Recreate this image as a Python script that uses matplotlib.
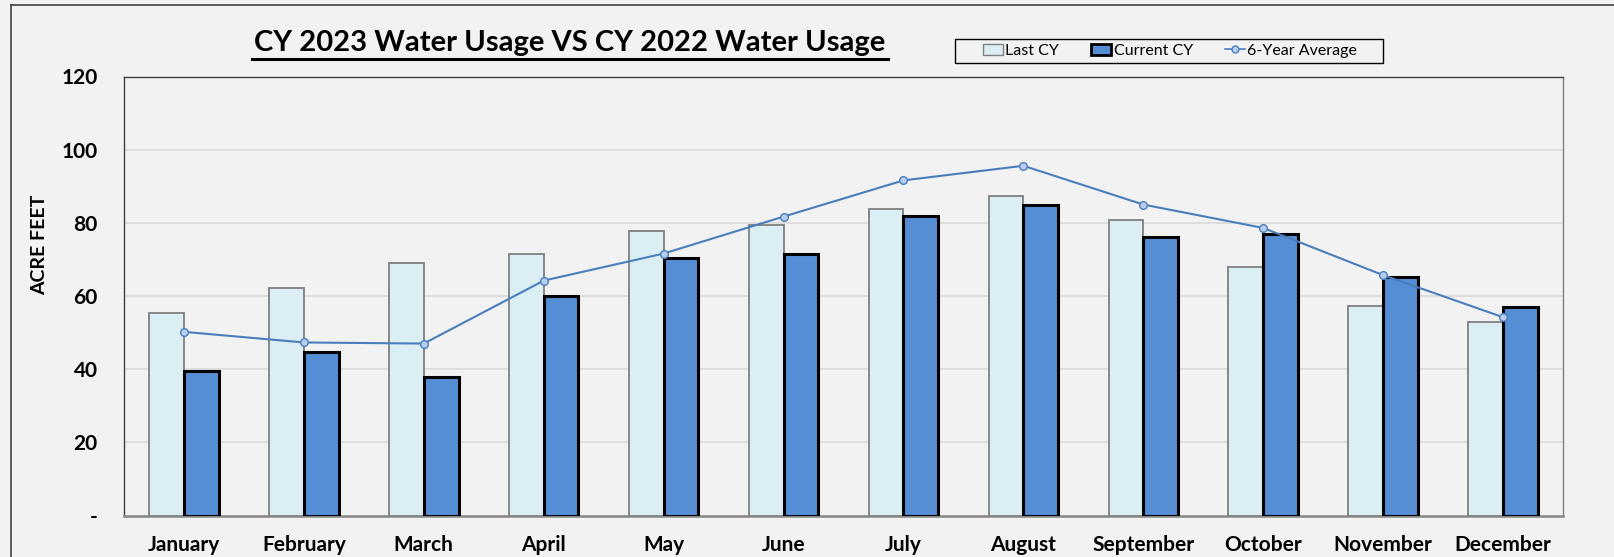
import matplotlib
matplotlib.use("Agg")
import matplotlib.pyplot as plt
import numpy as np
from matplotlib.patches import Patch, Rectangle
from matplotlib.lines import Line2D

months = ["January", "February", "March", "April", "May", "June", "July",
          "August", "September", "October", "November", "December"]
last_cy = [55.4, 62.2, 69.1, 71.5, 77.8, 79.3, 83.8, 87.3, 80.7, 68.0, 57.4, 53.0]
current_cy = [39.6, 44.8, 37.8, 60.0, 70.4, 71.4, 82.0, 85.0, 76.0, 77.0, 65.2, 57.0]
six_year_avg = [50.2, 47.3, 47.0, 64.2, 71.6, 81.7, 91.6, 95.6, 85.0, 78.6, 65.7, 54.2]
yticks = [0, 20, 40, 60, 80, 100, 120]
yticklabels = ["-", "20", "40", "60", "80", "100", "120"]

plt.rcParams['font.family'] = ['Lato', 'DejaVu Sans']
W, H = 1614, 557
bg = "#f2f2f2"
fig = plt.figure(figsize=(W / 100, H / 100), dpi=100, facecolor=bg)
ax = fig.add_axes([124 / W, 1 - 515.5 / H, (1563 - 124) / W, (515.5 - 76.5) / H])
ax.set_facecolor(bg)

x = np.arange(len(months))
bw = 0.29
ax.bar(x - bw / 2, last_cy, bw, color="#dbeef4", edgecolor="#7f7f7f", linewidth=1.3, zorder=3, label="Last CY")
ax.bar(x + bw / 2, current_cy, bw, color="#558ed5", edgecolor="black", linewidth=2.2, zorder=3, label="Current CY")
ax.plot(x, six_year_avg, color="#4a7ebb", linewidth=1.5, marker="o", markersize=5.5,
        markerfacecolor="#b9cdf0", markeredgecolor="#4a7ebb", markeredgewidth=1, zorder=4,
        label="6-Year Average")

ax.set_xlim(-0.5, len(months) - 0.5)
ax.set_ylim(0, 120)
ax.set_yticks(yticks)
ax.set_yticklabels(yticklabels, fontsize=15, fontweight="bold")
ax.set_xticks(x)
ax.set_xticklabels(months, fontsize=15, fontweight="bold")
ax.tick_params(axis="both", length=0)
ax.tick_params(axis="y", pad=19)
ax.tick_params(axis="x", pad=14)
for v in yticks[1:-1]:
    ax.axhline(v, color="#d9d9d9", linewidth=1.2, zorder=1)

for s in ["left", "top"]:
    ax.spines[s].set_color("#404040")
    ax.spines[s].set_linewidth(1.0)
ax.spines["right"].set_color("#808080")
ax.spines["right"].set_linewidth(1.0)
ax.spines["bottom"].set_color("#868686")
ax.spines["bottom"].set_linewidth(1.8)

fig.text(40 / W, 1 - 245 / H, "ACRE FEET", rotation=90, ha="center", va="center",
         fontsize=14, fontweight="bold")

fig.text(570 / W, 1 - 43 / H, "CY 2023 Water Usage VS CY 2022 Water Usage", ha="center", va="center",
         fontsize=21, fontweight="bold")
fig.add_artist(Line2D([252 / W, 888 / W], [1 - 59 / H, 1 - 59 / H], color="black", linewidth=2.2))

# legend frame
fig.add_artist(Rectangle((955 / W, 1 - 63 / H), (1383 - 955) / W, 24 / H, transform=fig.transFigure,
                         facecolor=bg, edgecolor="black", linewidth=1.0, zorder=2))
handles = [Patch(facecolor="#dbeef4", edgecolor="#7f7f7f", linewidth=1.0),
           Patch(facecolor="#558ed5", edgecolor="black", linewidth=2.0),
           Line2D([0], [0], color="#4a7ebb", linewidth=1.2, marker="o", markersize=5,
                  markerfacecolor="#b9cdf0", markeredgecolor="#4a7ebb")]
leg = fig.legend(handles, ["Last CY", "Current CY", "6-Year Average"], ncol=3,
                 loc="center", bbox_to_anchor=(1170 / W, 1 - 51 / H), frameon=False,
                 fontsize=11.5, handlelength=1.25, handletextpad=0.15, columnspacing=2.0,
                 borderpad=0.1, borderaxespad=0)
leg.set_zorder(3)

# outer frame (cropped at right and bottom)
fig.add_artist(Line2D([11 / W, 11 / W], [0, 1 - 5 / H], color="#404040", linewidth=1.2))
fig.add_artist(Line2D([11 / W, 1], [1 - 5 / H, 1 - 5 / H], color="#404040", linewidth=1.2))

fig.savefig("out.png", dpi=100, facecolor=bg)
